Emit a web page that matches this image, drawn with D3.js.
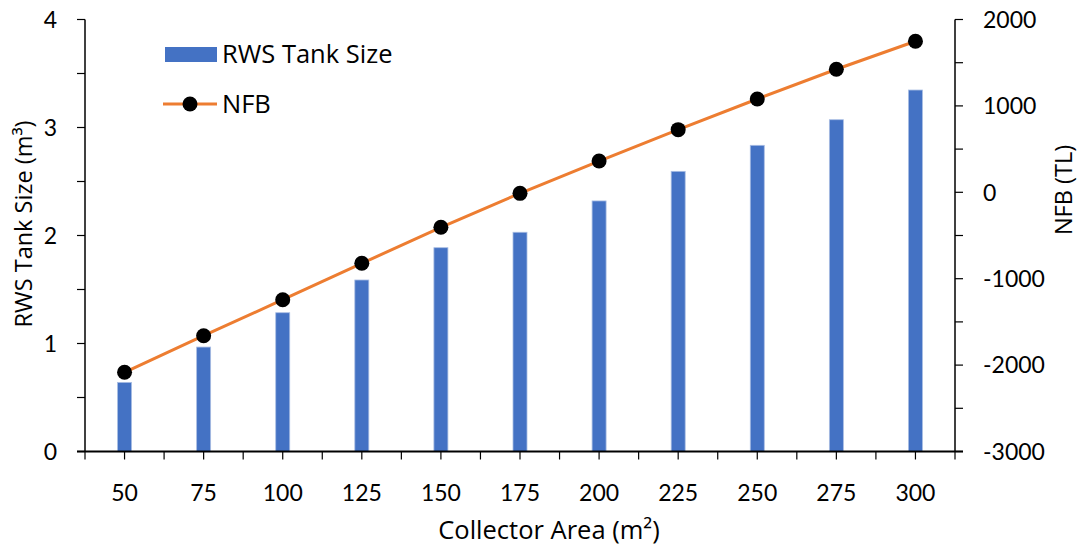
<!DOCTYPE html>
<html>
<head>
<meta charset="utf-8">
<script src="https://cdn.jsdelivr.net/npm/d3@7"></script>
<style>
  html, body { margin: 0; padding: 0; background: #fff; }
  svg { display: block; font-family: Lato, "Open Sans", sans-serif; }
  .label { font-family: "Open Sans", Lato, sans-serif; }
</style>
</head>
<body>
<svg id="chart" width="1085" height="552"></svg>
<script>
// Collector area categories (m²)
const areas = [50, 75, 100, 125, 150, 175, 200, 225, 250, 275, 300];
// Rainwater storage tank size (m³)
const tankSize = [0.64, 0.967, 1.285, 1.588, 1.887, 2.03, 2.32, 2.594, 2.835, 3.072, 3.347];
// Net financial benefit (TL)
const nfb = [-2083, -1660, -1243, -822, -405, -12, 362, 725, 1080, 1424, 1748];
// Axis ticks
const leftTicks = [0, 1, 2, 3, 4];
const rightTicks = [-3000, -2000, -1000, 0, 1000, 2000];

const W = 1085, H = 552;
const m = { top: 19.5, right: 130, bottom: 100.5, left: 85 };
const svg = d3.select("#chart");
const pw = W - m.left - m.right, ph = H - m.top - m.bottom;
const g = svg.append("g").attr("transform", `translate(${m.left},${m.top})`);

const x = d3.scaleBand().domain(areas).range([0, pw]).padding(0);
const yL = d3.scaleLinear().domain([0, 4]).range([ph, 0]);
const yR = d3.scaleLinear().domain([-3000, 2000]).range([ph, 0]);

const blue = "#4472C4", orange = "#ED7D31";
const fs = 23;    // tick numbers
const ts = 23.5;  // y-axis titles
const bs = 25.5;  // x-axis title and legend

// Bars
const bw = 14;
g.selectAll("rect.bar").data(areas).join("rect")
  .attr("class", "bar")
  .attr("x", (d) => x(d) + x.bandwidth() / 2 - bw / 2)
  .attr("y", (d, i) => yL(tankSize[i]))
  .attr("width", bw)
  .attr("height", (d, i) => ph - yL(tankSize[i]))
  .attr("fill", blue)
  .attr("stroke", "#a9bde3")
  .attr("stroke-width", 0.8);

// Left axis with half-unit minor ticks
const leftAxis = g.append("g");
leftAxis.append("line").attr("x1", 0).attr("x2", 0).attr("y1", 0).attr("y2", ph)
  .attr("stroke", "#000").attr("stroke-width", 1.5);
leftAxis.selectAll("line.t").data(d3.range(0, 4.01, 0.5)).join("line")
  .attr("class", "t")
  .attr("x1", -8).attr("x2", 0)
  .attr("y1", (d) => yL(d)).attr("y2", (d) => yL(d))
  .attr("stroke", "#000").attr("stroke-width", 1.2);
leftAxis.selectAll("text").data(leftTicks).join("text")
  .attr("x", -28).attr("y", (d) => yL(d)).attr("dy", "0.36em")
  .attr("text-anchor", "end").attr("font-size", fs).attr("fill", "#000")
  .text((d) => d);

// Right axis with 500-unit minor ticks
const rightAxis = g.append("g").attr("transform", `translate(${pw},0)`);
rightAxis.append("line").attr("x1", 0).attr("x2", 0).attr("y1", 0).attr("y2", ph)
  .attr("stroke", "#000").attr("stroke-width", 1.5);
rightAxis.selectAll("line.t").data(d3.range(-3000, 2001, 500)).join("line")
  .attr("class", "t")
  .attr("x1", 0).attr("x2", 8)
  .attr("y1", (d) => yR(d)).attr("y2", (d) => yR(d))
  .attr("stroke", "#000").attr("stroke-width", 1.2);
rightAxis.selectAll("text").data(rightTicks).join("text")
  .attr("x", 28).attr("y", (d) => yR(d)).attr("dy", "0.36em")
  .attr("text-anchor", "start").attr("font-size", fs).attr("fill", "#000")
  .text((d) => d);

// Bottom axis: ticks at category centres and boundaries
const bottom = g.append("g").attr("transform", `translate(0,${ph})`);
bottom.append("line").attr("x1", -8).attr("x2", pw + 8).attr("y1", 0).attr("y2", 0)
  .attr("stroke", "#000").attr("stroke-width", 1.8);
const halfTicks = d3.range(0, areas.length * 2 + 1).map((k) => (k * x.bandwidth()) / 2);
bottom.selectAll("line.t").data(halfTicks).join("line")
  .attr("class", "t")
  .attr("x1", (d) => d).attr("x2", (d) => d)
  .attr("y1", 0).attr("y2", 8)
  .attr("stroke", "#000").attr("stroke-width", 1.2);
bottom.selectAll("text").data(areas).join("text")
  .attr("x", (d) => x(d) + x.bandwidth() / 2).attr("y", 41)
  .attr("dy", "0.36em")
  .attr("text-anchor", "middle").attr("font-size", fs).attr("fill", "#000")
  .text((d) => d);

// NFB line with markers
const line = d3.line()
  .x((d) => x(d) + x.bandwidth() / 2)
  .y((d, i) => yR(nfb[i]));
g.append("path").datum(areas).attr("d", line)
  .attr("fill", "none").attr("stroke", orange).attr("stroke-width", 3);
g.selectAll("circle.pt").data(areas).join("circle")
  .attr("class", "pt")
  .attr("cx", (d) => x(d) + x.bandwidth() / 2)
  .attr("cy", (d, i) => yR(nfb[i]))
  .attr("r", 7.5)
  .attr("fill", "#000");

// Axis titles
svg.append("text").attr("class", "label")
  .attr("transform", `translate(32,224) rotate(-90)`)
  .attr("text-anchor", "middle").attr("font-size", ts).attr("fill", "#000")
  .text("RWS Tank Size (m³)");
svg.append("text").attr("class", "label")
  .attr("transform", `translate(1072,190) rotate(-90)`)
  .attr("text-anchor", "middle").attr("font-size", ts).attr("fill", "#000")
  .text("NFB (TL)");
svg.append("text").attr("class", "label")
  .attr("x", 549).attr("y", 539)
  .attr("text-anchor", "middle").attr("font-size", bs).attr("fill", "#000")
  .text("Collector Area (m²)");

// Legend
const lg = svg.append("g");
lg.append("rect").attr("x", 165).attr("y", 47).attr("width", 52).attr("height", 15).attr("fill", blue);
lg.append("text").attr("class", "label").attr("x", 222).attr("y", 54).attr("dy", "0.36em")
  .attr("font-size", bs).attr("fill", "#000").text("RWS Tank Size");
lg.append("line").attr("x1", 163).attr("x2", 217).attr("y1", 104).attr("y2", 104)
  .attr("stroke", orange).attr("stroke-width", 3);
lg.append("circle").attr("cx", 190).attr("cy", 104).attr("r", 7.5).attr("fill", "#000");
lg.append("text").attr("class", "label").attr("x", 222).attr("y", 104).attr("dy", "0.36em")
  .attr("font-size", bs).attr("fill", "#000").text("NFB");
</script>
</body>
</html>
